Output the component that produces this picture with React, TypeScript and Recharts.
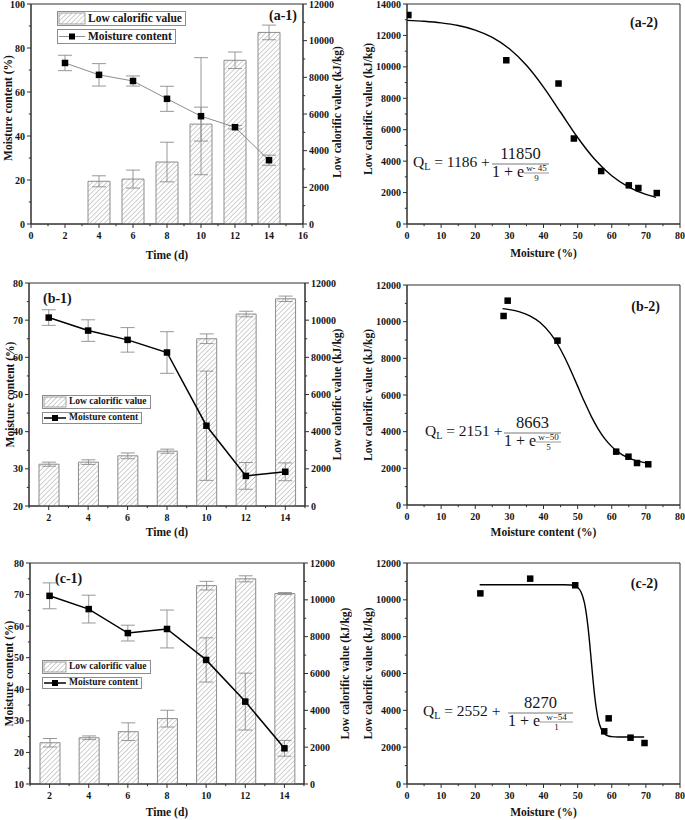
import React from 'react';
import {
  ComposedChart, Bar, Line, Scatter, XAxis, YAxis, ErrorBar,
  ReferenceArea, Legend, Label, Customized,
} from 'recharts';

const FONT = '"Liberation Serif", "Times New Roman", Times, serif';
const INK = '#151515';
const AXIS = '#2e2e2e';
const GREY = '#8c8c8c';

/* ---------------- (a) data ---------------- */
const daysA = [2, 4, 6, 8, 10, 12, 14];
const moistureA = [73.2, 67.8, 65.0, 56.9, 49.0, 44.0, 29.0];
const moistureErrA = [3.5, 5.1, 2.3, 5.7, 26.6, 0.8, 2.3];
const lcvA = [null, 2330, 2450, 3380, 5450, 8930, 10450];
const lcvErrA = [null, 300, 490, 1080, 925, 450, 400];

const moistureA2 = [0.4, 29.1, 44.4, 48.9, 56.9, 65.0, 67.8, 73.2];
const lcvA2 = [13300, 10420, 8940, 5440, 3370, 2460, 2290, 1970];
const fitMoistureA2 = [0, 5, 10, 15, 20, 25, 30, 35, 40, 45, 50, 55, 60, 65, 70, 73];
const fitLcvA2 = [12957, 12898, 12798, 12628, 12342, 11877, 11153, 10101, 8715, 7111, 5506, 4121, 3069, 2345, 1880, 1691];

/* ---------------- (b) data ---------------- */
const daysB = [2, 4, 6, 8, 10, 12, 14];
const moistureB = [70.7, 67.2, 64.7, 61.3, 41.6, 28.1, 29.2];
const moistureErrB = [2.1, 2.9, 3.3, 5.6, 14.7, 3.6, 2.4];
const lcvB = [2250, 2360, 2700, 2950, 9000, 10330, 11150];
const lcvErrB = [110, 125, 155, 110, 260, 150, 145];

const moistureB2 = [28.3, 29.5, 44.1, 61.3, 64.9, 67.4, 70.7];
const lcvB2 = [10310, 11145, 8965, 2910, 2635, 2290, 2220];
const fitMoistureB2 = [28, 30, 33, 36, 39, 42, 44, 46, 48, 50, 52, 54, 56, 58, 60, 63, 66, 68, 71];
const fitLcvB2 = [10709, 10658, 10534, 10317, 9950, 9359, 8809, 8128, 7338, 6483, 5628, 4837, 4156, 3606, 3184, 2750, 2490, 2381, 2279];

/* ---------------- (c) data ---------------- */
const daysC = [2, 4, 6, 8, 10, 12, 14];
const moistureC = [69.6, 65.4, 57.8, 59.1, 49.3, 36.1, 21.3];
const moistureErrC = [4.1, 4.4, 2.5, 6.0, 7.0, 9.0, 2.5];
const lcvC = [2240, 2510, 2840, 3550, 10770, 11140, 10340];
const lcvErrC = [230, 100, 480, 455, 235, 165, 55];

const moistureC2 = [21.5, 36.1, 49.3, 57.8, 59.1, 65.5, 69.6];
const lcvC2 = [10350, 11150, 10790, 2860, 3565, 2515, 2225];
const fitMoistureC2 = [21.3, 30, 40, 46, 48, 49, 50, 51, 52, 53, 53.5, 54, 54.5, 55, 56, 57, 58, 59, 60, 62, 65, 69.5];
const fitLcvC2 = [10822, 10822, 10822, 10819, 10802, 10767, 10673, 10430, 9836, 8598, 7700, 6687, 5674, 4776, 3538, 2944, 2701, 2607, 2573, 2555, 2552, 2552];

/* ---------------- ticks ---------------- */
const ticksTimeA = [0, 1, 2, 3, 4, 5, 6, 7, 8, 9, 10, 11, 12, 13, 14, 15, 16];
const labelsTimeA = [0, 2, 4, 6, 8, 10, 12, 14, 16];
const ticksTimeBC = [1, 2, 3, 4, 5, 6, 7, 8, 9, 10, 11, 12, 13, 14, 15];
const labelsTimeBC = [2, 4, 6, 8, 10, 12, 14];
const ticksMoistA = [0, 10, 20, 30, 40, 50, 60, 70, 80, 90, 100];
const labelsMoistA = [0, 20, 40, 60, 80, 100];
const ticksMoistB = [20, 25, 30, 35, 40, 45, 50, 55, 60, 65, 70, 75, 80];
const labelsMoistB = [20, 30, 40, 50, 60, 70, 80];
const ticksMoistC = [10, 15, 20, 25, 30, 35, 40, 45, 50, 55, 60, 65, 70, 75, 80];
const labelsMoistC = [10, 20, 30, 40, 50, 60, 70, 80];
const ticksLcv12 = [0, 1000, 2000, 3000, 4000, 5000, 6000, 7000, 8000, 9000, 10000, 11000, 12000];
const labelsLcv12 = [0, 2000, 4000, 6000, 8000, 10000, 12000];
const ticksLcv14 = [0, 1000, 2000, 3000, 4000, 5000, 6000, 7000, 8000, 9000, 10000, 11000, 12000, 13000, 14000];
const labelsLcv14 = [0, 2000, 4000, 6000, 8000, 10000, 12000, 14000];
const ticksPct = [0, 5, 10, 15, 20, 25, 30, 35, 40, 45, 50, 55, 60, 65, 70, 75, 80];
const labelsPct = [0, 10, 20, 30, 40, 50, 60, 70, 80];

/* ---------------- helpers ---------------- */
const makeTick = (side: 'bottom' | 'left' | 'right', majors: number[]) => (props: any) => {
  const { x, y, payload } = props;
  const v = payload.value;
  const major = majors.indexOf(v) >= 0;
  const len = major ? 4 : 2.2;
  const txt = { fontFamily: FONT, fontWeight: 700, fontSize: 10, fill: INK } as any;
  if (side === 'bottom') {
    return (
      <g>
        <line x1={x} y1={y} x2={x} y2={y + len} stroke={AXIS} strokeWidth={1} />
        {major && <text x={x} y={y + 15} textAnchor="middle" {...txt}>{v}</text>}
      </g>
    );
  }
  if (side === 'left') {
    return (
      <g>
        <line x1={x} y1={y} x2={x - len} y2={y} stroke={AXIS} strokeWidth={1} />
        {major && <text x={x - 6} y={y + 3.5} textAnchor="end" {...txt}>{v}</text>}
      </g>
    );
  }
  return (
    <g>
      <line x1={x} y1={y} x2={x + len} y2={y} stroke={AXIS} strokeWidth={1} />
      {major && <text x={x + 6} y={y + 3.5} textAnchor="start" {...txt}>{v}</text>}
    </g>
  );
};

const Hatch = ({ id }: { id: string }) => (
  <pattern id={id} patternUnits="userSpaceOnUse" width={3.4} height={3.4} patternTransform="rotate(45)">
    <rect x={0} y={0} width={3.4} height={3.4} fill="#ffffff" />
    <line x1={0} y1={0} x2={0} y2={3.4} stroke="#8e8e8e" strokeWidth={0.85} />
  </pattern>
);

const squareDot = (s: number) => (p: any) => {
  if (p.cx == null || p.cy == null || p.value == null) return <g key={`d-${p.index}`} />;
  return <rect key={`d-${p.index}`} x={p.cx - s / 2} y={p.cy - s / 2} width={s} height={s} fill="#000" />;
};

const squareShape = (s: number) => (p: any) => (
  <rect x={p.cx - s / 2} y={p.cy - s / 2} width={s} height={s} fill="#000" />
);

const LegendBlock = ({ fs, sw, h1, h2, gap, hatchId, lineColor, lineW }: any) => (
  <div style={{ fontFamily: FONT, fontWeight: 700, fontSize: fs, color: INK, lineHeight: 1 }}>
    <div style={{ display: 'flex', alignItems: 'center', width: 'max-content', height: h1, border: `1px solid ${GREY}`, paddingRight: 3, boxSizing: 'border-box' }}>
      <svg width={sw} height={h1 - 2} style={{ display: 'block' }}>
        <rect x={1} y={1} width={sw - 2} height={h1 - 4} fill={`url(#${hatchId})`} stroke={GREY} strokeWidth={0.8} />
      </svg>
      <span style={{ marginLeft: 2, whiteSpace: 'nowrap' }}>Low calorific value</span>
    </div>
    <div style={{ marginTop: gap, display: 'flex', alignItems: 'center', width: 'max-content', height: h2, border: `1px solid ${GREY}`, paddingRight: 3, boxSizing: 'border-box' }}>
      <svg width={sw} height={h2 - 2} style={{ display: 'block' }}>
        <line x1={1} x2={sw - 1} y1={(h2 - 2) / 2} y2={(h2 - 2) / 2} stroke={lineColor} strokeWidth={lineW} />
        <rect x={sw / 2 - 3} y={(h2 - 2) / 2 - 3} width={6} height={6} fill="#000" />
      </svg>
      <span style={{ marginLeft: 2, whiteSpace: 'nowrap' }}>Moisture content</span>
    </div>
  </div>
);

const PanelLabel = ({ x, y, text, anchor }: any) => (
  <text x={x} y={y} textAnchor={anchor} fontFamily={FONT} fontWeight={700} fontSize={14} fill={INK}>{text}</text>
);

const Equation = ({ x, y, c, num, en, ed, fx, fw }: any) => {
  const ex = fx + 32 + (fw - 32) / 2;
  return (
    <g fontFamily={FONT} fill={INK}>
      <text x={x} y={y} fontSize={15.5}>Q<tspan fontSize={10} dy={3}>L</tspan><tspan dy={-3}>{` = ${c} +`}</tspan></text>
      <text x={fx + fw / 2} y={y - 8.5} fontSize={16.5} textAnchor="middle">{num}</text>
      <line x1={fx} x2={fx + fw} y1={y - 3} y2={y - 3} stroke="#555" strokeWidth={0.8} />
      <text x={fx} y={y + 10} fontSize={16}>1 + e</text>
      <text x={ex} y={y + 3.5} fontSize={9} textAnchor="middle">{en}</text>
      <line x1={fx + 32} x2={fx + fw} y1={y + 6} y2={y + 6} stroke="#555" strokeWidth={0.6} />
      <text x={ex} y={y + 13.5} fontSize={9} textAnchor="middle">{ed}</text>
    </g>
  );
};

const titleProps = { fontFamily: FONT, fontWeight: 700, fontSize: 11.5, fill: INK } as any;

/* ---------------- bar + line panel ---------------- */
const BarLinePanel = (p: any) => {
  const data = p.days.map((d: number, i: number) => ({
    day: d, moisture: p.moisture[i], moistErr: p.moistErr[i], lcv: p.lcv[i], lcvErr: p.lcvErr[i],
  }));
  return (
    <div style={{ position: 'absolute', left: p.left, top: p.top }}>
      <ComposedChart width={p.width} height={p.height} data={data} margin={{ top: p.mt, right: 0, bottom: 0, left: 0 }}>
        <defs><Hatch id={p.hatchId} /></defs>
        <XAxis dataKey="day" type="number" domain={p.xDomain} ticks={p.xTicks} interval={0} allowDataOverflow
          tickLine={false} tickSize={0} tickMargin={0} tick={makeTick('bottom', p.xLabels)} height={p.xh} stroke={AXIS}>
          <Label value="Time (d)" position="center" dy={p.xTitleDy} {...titleProps} />
        </XAxis>
        <YAxis yAxisId="left" type="number" domain={p.yLDomain} ticks={p.yLTicks} interval={0} allowDataOverflow
          tickLine={false} tickSize={0} tickMargin={0} tick={makeTick('left', p.yLLabels)} width={p.lw} stroke={AXIS}>
          <Label value="Moisture content (%)" position="center" angle={-90} dx={p.lDx} dy={p.lDy} {...titleProps} />
        </YAxis>
        <YAxis yAxisId="right" orientation="right" type="number" domain={[0, 12000]} ticks={ticksLcv12} interval={0} allowDataOverflow
          tickLine={false} tickSize={0} tickMargin={0} tick={makeTick('right', labelsLcv12)} width={p.rw} stroke={AXIS}>
          <Label value="Low calorific value (kJ/kg)" position="center" angle={-90} dx={p.rDx} dy={p.rDy} {...titleProps} />
        </YAxis>
        <ReferenceArea yAxisId="left" x1={p.xDomain[0]} x2={p.xDomain[1]} y1={p.yLDomain[0]} y2={p.yLDomain[1]} fill="none" stroke={AXIS} strokeWidth={1} fillOpacity={0} />
        <Bar yAxisId="right" dataKey="lcv" barSize={p.barSize} fill={`url(#${p.hatchId})`} stroke={GREY} strokeWidth={1} isAnimationActive={false}>
          <ErrorBar dataKey="lcvErr" width={7} stroke={GREY} strokeWidth={0.9} direction="y" />
        </Bar>
        <Line yAxisId="left" dataKey="moisture" type="linear" stroke={p.lineColor} strokeWidth={p.lineW} dot={squareDot(6.5)} activeDot={false} isAnimationActive={false}>
          <ErrorBar dataKey="moistErr" width={7} stroke={GREY} strokeWidth={0.9} direction="y" />
        </Line>
        <Legend layout="vertical" align="center" verticalAlign="middle"
          wrapperStyle={{ left: p.legend.left, top: p.legend.top, width: 'auto', height: 'auto' }}
          content={() => <LegendBlock {...p.legend} hatchId={p.hatchId} lineColor={p.lineColor} lineW={p.lineW} />} />
        <Customized component={<PanelLabel {...p.label} />} />
      </ComposedChart>
    </div>
  );
};

/* ---------------- fit panel ---------------- */
const FitPanel = (p: any) => {
  const pts = p.mx.map((x: number, i: number) => ({ x, y: p.my[i] }));
  const curve = p.fx.map((x: number, i: number) => ({ x, y: p.fy[i] }));
  return (
    <div style={{ position: 'absolute', left: p.left, top: p.top }}>
      <ComposedChart width={p.width} height={p.height} margin={{ top: p.mt, right: 5, bottom: 0, left: 0 }}>
        <XAxis dataKey="x" type="number" domain={[0, 80]} ticks={ticksPct} interval={0} allowDataOverflow
          tickLine={false} tickSize={0} tickMargin={0} tick={makeTick('bottom', labelsPct)} height={p.xh} stroke={AXIS}>
          <Label value={p.xTitle} position="center" dy={p.xTitleDy} {...titleProps} />
        </XAxis>
        <YAxis dataKey="y" type="number" domain={p.yDomain} ticks={p.yTicks} interval={0} allowDataOverflow
          tickLine={false} tickSize={0} tickMargin={0} tick={makeTick('left', p.yLabels)} width={67} stroke={AXIS}>
          <Label value="Low calorific value (kJ/kg)" position="center" angle={-90} dx={-5.5} dy={p.lDy} {...titleProps} />
        </YAxis>
        <ReferenceArea x1={0} x2={80} y1={p.yDomain[0]} y2={p.yDomain[1]} fill="none" stroke={AXIS} strokeWidth={1} fillOpacity={0} />
        <Line data={curve} dataKey="y" type="monotone" stroke="#000" strokeWidth={1.4} dot={false} activeDot={false} isAnimationActive={false} />
        <Scatter data={pts} dataKey="y" shape={squareShape(6.5)} isAnimationActive={false} />
        <Customized component={<PanelLabel {...p.label} />} />
        <Customized component={<Equation {...p.eq} />} />
      </ComposedChart>
    </div>
  );
};

export default function App() {
  return (
    <div style={{ position: 'absolute', left: 0, top: 0, width: 685, height: 820, background: '#fff' }}>
      <BarLinePanel left={0} top={0} width={345} height={262} mt={4} xh={38} lw={31} rw={42}
        days={daysA} moisture={moistureA} moistErr={moistureErrA} lcv={lcvA} lcvErr={lcvErrA}
        xDomain={[0, 16]} xTicks={ticksTimeA} xLabels={labelsTimeA}
        yLDomain={[0, 100]} yLTicks={ticksMoistA} yLLabels={labelsMoistA}
        barSize={22} hatchId="hatchA1" lineColor={GREY} lineW={1}
        xTitleDy={12} lDx={-7.5} lDy={-6} rDx={13} rDy={-2}
        legend={{ left: 57, top: 11, fs: 11.5, sw: 28, h1: 15, h2: 15, gap: 3 }}
        label={{ x: 297, y: 20, text: '(a-1)', anchor: 'end' }} />
      <FitPanel left={340} top={0} width={345} height={262} mt={4} xh={38}
        mx={moistureA2} my={lcvA2} fx={fitMoistureA2} fy={fitLcvA2}
        yDomain={[0, 14000]} yTicks={ticksLcv14} yLabels={labelsLcv14}
        xTitle="Moisture (%)" xTitleDy={10} lDy={-5}
        label={{ x: 318, y: 27, text: '(a-2)', anchor: 'end' }}
        eq={{ x: 73, y: 167, c: '1186', num: '11850', en: 'w- 45', ed: '9', fx: 152, fw: 57 }} />

      <BarLinePanel left={0} top={265} width={345} height={280} mt={18} xh={39} lw={29} rw={40}
        days={daysB} moisture={moistureB} moistErr={moistureErrB} lcv={lcvB} lcvErr={lcvErrB}
        xDomain={[1, 15]} xTicks={ticksTimeBC} xLabels={labelsTimeBC}
        yLDomain={[20, 80]} yLTicks={ticksMoistB} yLLabels={labelsMoistB}
        barSize={20} hatchId="hatchB1" lineColor="#000" lineW={1.5}
        xTitleDy={6.5} lDx={-5} lDy={0} rDx={12} rDy={0}
        legend={{ left: 42, top: 130, fs: 9.5, sw: 24, h1: 14, h2: 12, gap: 3 }}
        label={{ x: 43, y: 38, text: '(b-1)', anchor: 'start' }} />
      <FitPanel left={340} top={265} width={345} height={280} mt={20} xh={40}
        mx={moistureB2} my={lcvB2} fx={fitMoistureB2} fy={fitLcvB2}
        yDomain={[0, 12000]} yTicks={ticksLcv12} yLabels={labelsLcv12}
        xTitle="Moisture content (%)" xTitleDy={7} lDy={0}
        label={{ x: 320, y: 46, text: '(b-2)', anchor: 'end' }}
        eq={{ x: 85, y: 171, c: '2151', num: '8663', en: 'w\u221250', ed: '5', fx: 164, fw: 57 }} />

      <BarLinePanel left={0} top={535} width={352} height={285} mt={28} xh={36} lw={30} rw={48}
        days={daysC} moisture={moistureC} moistErr={moistureErrC} lcv={lcvC} lcvErr={lcvErrC}
        xDomain={[1, 15]} xTicks={ticksTimeBC} xLabels={labelsTimeBC}
        yLDomain={[10, 80]} yLTicks={ticksMoistC} yLLabels={labelsMoistC}
        barSize={20} hatchId="hatchC1" lineColor="#000" lineW={1.5}
        xTitleDy={9.5} lDx={-6.5} lDy={0} rDx={17} rDy={0}
        legend={{ left: 42, top: 125, fs: 9.5, sw: 24, h1: 14, h2: 12, gap: 3 }}
        label={{ x: 55, y: 48, text: '(c-1)', anchor: 'start' }} />
      <FitPanel left={340} top={535} width={345} height={285} mt={28} xh={36}
        mx={moistureC2} my={lcvC2} fx={fitMoistureC2} fy={fitLcvC2}
        yDomain={[0, 12000]} yTicks={ticksLcv12} yLabels={labelsLcv12}
        xTitle="Moisture (%)" xTitleDy={9.5} lDy={0}
        label={{ x: 318, y: 53, text: '(c-2)', anchor: 'end' }}
        eq={{ x: 83, y: 181, c: '2552', num: '8270', en: 'w\u221254', ed: '1', fx: 168, fw: 65 }} />
    </div>
  );
}
